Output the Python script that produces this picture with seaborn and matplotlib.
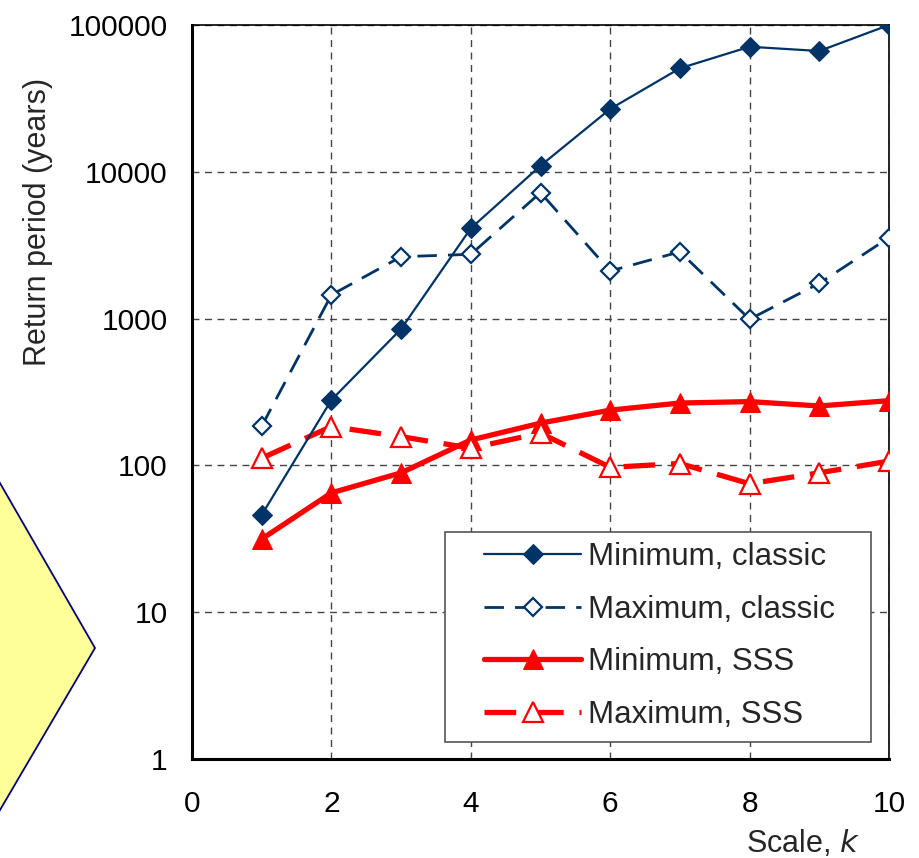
# Return period vs scale chart

import numpy as np
import pandas as pd
import matplotlib
matplotlib.use("Agg")
import matplotlib.pyplot as plt
import seaborn as sns
from matplotlib.patches import Polygon, Rectangle


# DATA

scale_k = [1, 2, 3, 4, 5, 6, 7, 8, 9, 10]

min_classic = [46, 279, 850, 4120, 11000, 26800, 50700, 71100, 66500, 100000]
max_classic = [185, 1450, 2640, 2740, 7210, 2110, 2850, 990, 1740, 3560]
min_sss = [31.5, 65, 89, 149, 194, 238, 266, 272, 254, 276]
max_sss = [112, 184, 157, 131, 166, 97, 103, 75, 89, 107]

series_names = ["Minimum, classic", "Maximum, classic", "Minimum, SSS", "Maximum, SSS"]

y_ticks = [1, 10, 100, 1000, 10000, 100000]
x_ticks = [0, 2, 4, 6, 8, 10]


# STYLE

sns.set_style("white")
plt.rcParams["font.family"] = ["Liberation Sans", "DejaVu Sans"]

NAVY = "#003366"
RED = "#FF0000"

fig = plt.figure(figsize=(9.19, 8.58), dpi=100)

# yellow shape partly off the left edge
fig.patches.append(Polygon(
    [(-200 / 919, 1 - 136 / 858), (95 / 919, 1 - 648 / 858), (-200 / 919, 1 - 1151 / 858)],
    closed=True, transform=fig.transFigure,
    facecolor="#FFFF99", edgecolor="#000080", linewidth=1.3, zorder=0
))

ax = fig.add_axes([192 / 919, 99 / 858, 697 / 919, 734 / 858])


# PLOT

df = pd.DataFrame({
    "k": scale_k,
    series_names[0]: min_classic,
    series_names[1]: max_classic,
    series_names[2]: min_sss,
    series_names[3]: max_sss,
})

sns.lineplot(data=df, x="k", y=series_names[0], ax=ax, color=NAVY,
             linewidth=1.6, marker="D", markersize=10, markerfacecolor=NAVY,
             markeredgecolor=NAVY, label=series_names[0], zorder=4)

sns.lineplot(data=df, x="k", y=series_names[1], ax=ax, color=NAVY,
             linewidth=2.0, linestyle=(0, (7, 4)), marker="D", markersize=9,
             markerfacecolor="white", markeredgecolor=NAVY, markeredgewidth=1.6,
             label=series_names[1], zorder=3)

sns.lineplot(data=df, x="k", y=series_names[2], ax=ax, color=RED,
             linewidth=3.8, marker="^", markersize=15, markerfacecolor=RED,
             markeredgecolor=RED, label=series_names[2], zorder=3)

sns.lineplot(data=df, x="k", y=series_names[3], ax=ax, color=RED,
             linewidth=3.8, linestyle=(0, (6, 3)), marker="^", markersize=15,
             markerfacecolor="white", markeredgecolor=RED, markeredgewidth=1.6,
             label=series_names[3], zorder=3)


# AXES

ax.set_yscale("log")
ax.set_ylim(1, 100000)
ax.set_xlim(0, 10)
ax.set_yticks(y_ticks)
ax.set_yticklabels([str(v) for v in y_ticks])
ax.set_xticks(x_ticks)
ax.set_xticklabels([str(v) for v in x_ticks])
ax.minorticks_off()

ax.tick_params(axis="both", direction="inout", length=13, width=1.2,
               color="#555555", labelsize=21.5, colors="black")
ax.tick_params(axis="y", pad=11)
ax.tick_params(axis="x", pad=16)

ax.grid(True, linestyle=(0, (5, 4)), color="#444444", linewidth=1.0)
ax.set_axisbelow(True)

for side in ["left", "bottom"]:
    ax.spines[side].set_linewidth(2.2)
    ax.spines[side].set_color("black")
for side in ["top", "right"]:
    ax.spines[side].set_linewidth(1.2)
    ax.spines[side].set_color("black")

ax.set_xlabel("")
ax.set_ylabel("")

fig.text(38 / 919, 1 - 222 / 858, "Return period (years)", rotation=90,
         ha="center", va="center", fontsize=22)
fig.text(860 / 919, 1 - 844 / 858, "Scale, $\\it{k}$", ha="right",
         va="center", fontsize=22)


# LEGEND

# frame drawn separately so the box matches the reference
ax.add_patch(Rectangle(((445 - 192) / 697, (759 - 742) / 734),
                       (871 - 445) / 697, (742 - 532) / 734,
                       transform=ax.transAxes, facecolor="white",
                       edgecolor="#555555", linewidth=1.2, zorder=5))

leg = ax.legend(loc="upper left", bbox_to_anchor=((478 - 192) / 697, (759 - 536) / 734),
                borderaxespad=0, fontsize=22.5, frameon=False,
                handlelength=3.1, handletextpad=0.22, labelspacing=0.72,
                borderpad=0.2, numpoints=1)
leg.set_zorder(6)

fig.savefig("out.png", dpi=100)
